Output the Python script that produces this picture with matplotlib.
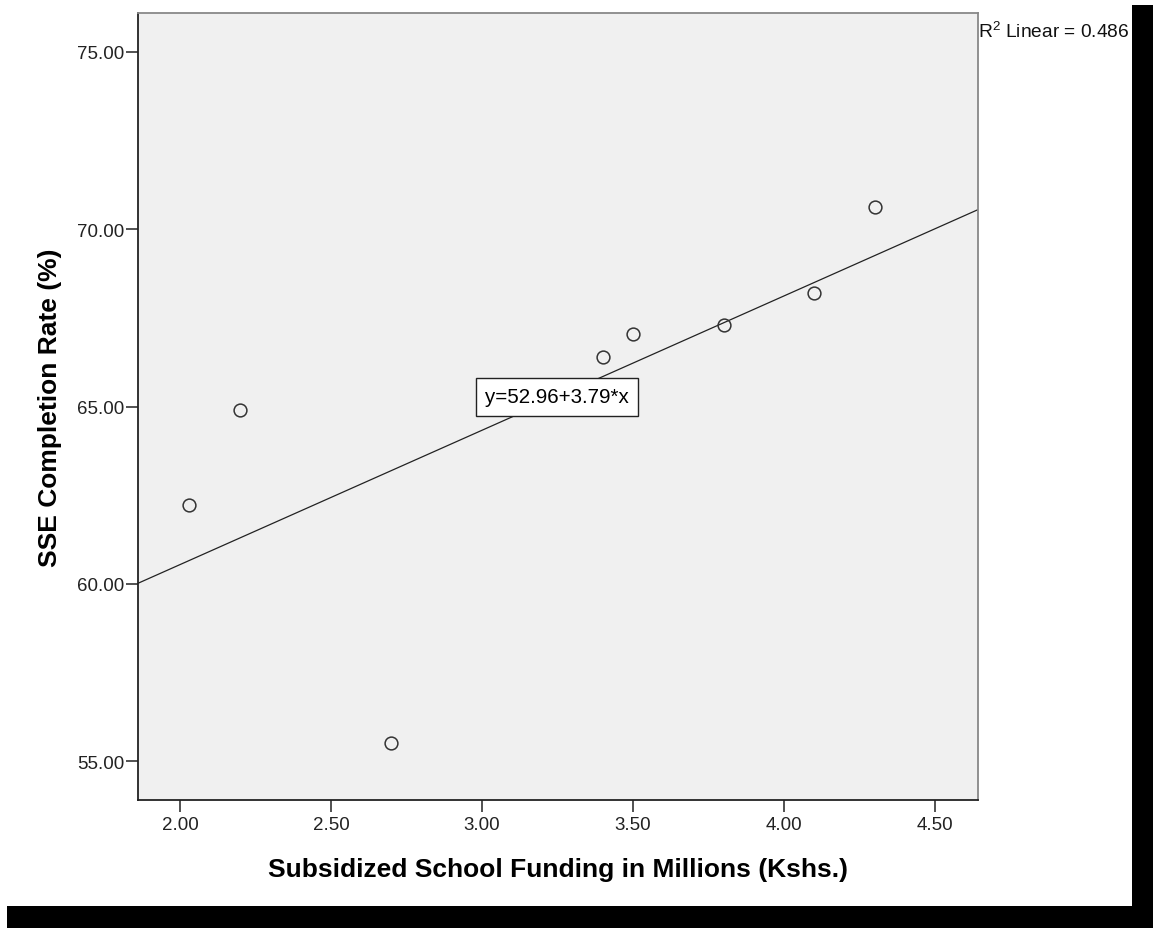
import numpy as np
import matplotlib
matplotlib.use("Agg")
import matplotlib.pyplot as plt
from matplotlib.patches import Rectangle

plt.rcParams['font.family'] = ['Liberation Sans', 'DejaVu Sans']
plt.rcParams['mathtext.fontset'] = 'custom'
plt.rcParams['mathtext.rm'] = 'Liberation Sans'

# school funding (millions Kshs) vs SSE completion rate (%)
funding = [2.03, 2.20, 2.70, 3.40, 3.50, 3.80, 4.10, 4.30]
completion = [62.22, 64.90, 55.50, 66.39, 67.04, 67.30, 68.20, 70.62]

intercept = 52.96
slope = 3.79
r_squared = 0.486

x_ticks = [2.0, 2.5, 3.0, 3.5, 4.0, 4.5]
y_ticks = [55.0, 60.0, 65.0, 70.0, 75.0]

W, H = 1153, 929
fig = plt.figure(figsize=(W / 100, H / 100), dpi=100)
ax = fig.add_axes([138 / W, 1 - 801 / H, (978 - 138) / W, (801 - 14) / H])
ax.set_facecolor('#f0f0f0')

xlim = (1.861, 4.642)
ylim = (53.9, 76.1)
ax.set_xlim(*xlim)
ax.set_ylim(*ylim)

# fit line across the whole x range
xs = np.array(xlim)
ax.plot(xs, intercept + slope * xs, color='#222222', lw=0.9, zorder=2)

ax.plot(funding, completion, 'o', ms=9.2, mfc='none', mec='#333333', mew=1.1, zorder=3)

ax.set_xticks(x_ticks)
ax.set_yticks(y_ticks)
ax.set_xticklabels([f"{v:.2f}" for v in x_ticks])
ax.set_yticklabels([f"{v:.2f}" for v in y_ticks])
ax.tick_params(axis='both', direction='out', length=8.5, width=1.2, colors='#333333',
               labelsize=13.5, labelcolor='#222222')
ax.tick_params(axis='x', pad=3)
ax.tick_params(axis='y', pad=1.5)

for side in ['left', 'bottom']:
    ax.spines[side].set_color('#222222')
    ax.spines[side].set_linewidth(1.3)
for side in ['top', 'right']:
    ax.spines[side].set_color('#888888')
    ax.spines[side].set_linewidth(1.3)

ax.set_xlabel('Subsidized School Funding in Millions (Kshs.)', fontsize=19, fontweight='bold',
              labelpad=17)
ax.set_ylabel('SSE Completion Rate (%)', fontsize=19, fontweight='bold', labelpad=11)

ax.text(3.248, 65.27, f"y={intercept:.2f}+{slope:.2f}*x", fontsize=14.8, ha='center', va='center',
        bbox=dict(boxstyle='square,pad=0.45', fc='white', ec='#222222', lw=1.0), zorder=4)

fig.text(978 / W, 1 - 38 / H, r'R$^{\mathrm{2}}$' + f' Linear = {r_squared:.3f}',
         fontsize=13.8, ha='left', va='baseline', color='#111111')

# black borders along the right and bottom edges
fig.patches.append(Rectangle((1132 / W, 0), (W - 1132) / W, 1 - 6 / H,
                             transform=fig.transFigure, fc='black', ec='none'))
fig.patches.append(Rectangle((7 / W, 0), 1 - 7 / W, 22 / H,
                             transform=fig.transFigure, fc='black', ec='none'))

fig.savefig('out.png', dpi=100)
